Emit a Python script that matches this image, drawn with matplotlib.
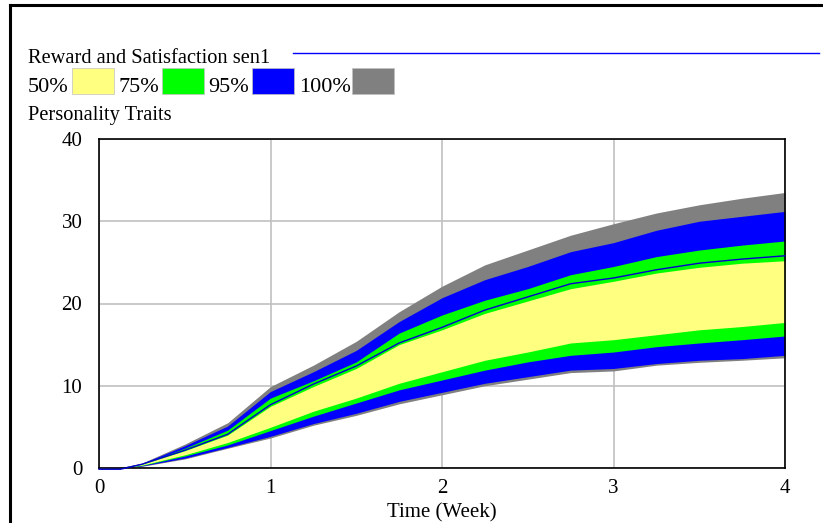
import matplotlib
matplotlib.use("Agg")
import matplotlib.pyplot as plt
from matplotlib.patches import Rectangle
from matplotlib.lines import Line2D

# time axis (weeks)
time = [0, 0.125, 0.25, 0.5, 0.75, 1, 1.25, 1.5, 1.75, 2, 2.25, 2.5, 2.75, 3, 3.25, 3.5, 3.75, 4]

# sensitivity bounds for Personality Traits
hi100 = [0, 0.05, 0.6, 2.9, 5.5, 9.9, 12.5, 15.4, 19.0, 22.1, 24.7, 26.5, 28.3, 29.7, 31.0, 32.0, 32.8, 33.5]
hi95 = [0, 0.05, 0.55, 2.7, 5.1, 9.3, 11.7, 14.3, 17.8, 20.7, 22.9, 24.5, 26.3, 27.4, 28.9, 30.0, 30.6, 31.2]
hi75 = [0, 0.04, 0.5, 2.4, 4.6, 8.5, 10.6, 12.9, 16.4, 18.6, 20.4, 21.8, 23.5, 24.5, 25.7, 26.5, 27.1, 27.6]
hi50 = [0, 0.03, 0.45, 2.1, 4.0, 7.5, 9.9, 12.1, 15.0, 16.8, 18.8, 20.3, 21.8, 22.7, 23.7, 24.4, 24.9, 25.2]
lo50 = [0, 0.02, 0.35, 1.6, 3.1, 4.95, 6.9, 8.5, 10.3, 11.7, 13.1, 14.1, 15.2, 15.6, 16.2, 16.8, 17.2, 17.7]
lo75 = [0, 0.02, 0.3, 1.45, 2.8, 4.55, 6.3, 7.9, 9.5, 10.7, 11.9, 12.9, 13.7, 14.1, 14.75, 15.2, 15.6, 16.05]
lo95 = [0, 0.01, 0.25, 1.2, 2.5, 3.85, 5.4, 6.65, 8.1, 9.2, 10.3, 11.1, 11.9, 12.1, 12.7, 13.1, 13.3, 13.7]
lo100 = [0, 0.01, 0.2, 1.1, 2.4, 3.65, 5.2, 6.4, 7.8, 8.9, 10.0, 10.8, 11.6, 11.8, 12.5, 12.85, 13.1, 13.4]
# base run
base = [-0.15, -0.15, 0.45, 2.15, 4.1, 7.7, 10.2, 12.4, 15.2, 17.1, 19.2, 20.8, 22.4, 23.1, 24.1, 24.9, 25.4, 25.8]

band_labels = ["50%", "75%", "95%", "100%"]
band_colors = ["#ffff80", "#00ff00", "#0000ff", "#808080"]

plt.rcParams['font.family'] = ['Liberation Serif', 'DejaVu Serif']

W, H = 823, 523
fig = plt.figure(figsize=(W / 100, H / 100), dpi=100)
ax = fig.add_axes([99 / W, 1 - 468 / H, 686 / W, 329 / H])

# widest band first so the narrower ones sit on top
ax.fill_between(time, lo100, hi100, color=band_colors[3], lw=0)
ax.fill_between(time, lo95, hi95, color=band_colors[2], lw=0)
ax.fill_between(time, lo75, hi75, color=band_colors[1], lw=0)
ax.fill_between(time, lo50, hi50, color=band_colors[0], lw=0)
ax.plot(time, base, color="#0000cc", lw=1.0, clip_on=False, zorder=5)

ax.set_xlim(0, 4)
ax.set_ylim(0, 40)
ax.set_xticks([0, 1, 2, 3, 4])
ax.set_yticks([0, 10, 20, 30, 40])
ax.grid(True, color="#c0c0c0", lw=1.2)
ax.set_axisbelow(True)
ax.tick_params(length=0, labelsize=15)
ax.tick_params(axis='y', pad=12)
ax.tick_params(axis='x', pad=8)
for s in ax.spines.values():
    s.set_linewidth(1.2)
    s.set_color("black")
ax.set_xlabel("Time (Week)", fontsize=15, labelpad=4)

# header texts
fig.text(28 / W, 1 - 63 / H, "Reward and Satisfaction sen1", fontsize=14.7, va='baseline')
fig.add_artist(Line2D([293 / W, 819 / W], [1 - 53 / H, 1 - 53 / H], color="#0000ff", lw=1))
fig.text(28 / W, 1 - 120 / H, "Personality Traits", fontsize=14.7, va='baseline')

# legend row: label then colour swatch
label_x = [28, 118, 208, 299]
patch_x = [72, 162, 252, 352]
for lab, c, lx, px in zip(band_labels, band_colors, label_x, patch_x):
    fig.text(lx / W, 1 - 92 / H, lab, fontsize=16, va='baseline')
    fig.add_artist(Rectangle((px / W, 1 - 94 / H), 42 / W, 26 / H, facecolor=c,
                             edgecolor="#c0c0c0", lw=0.5, transform=fig.transFigure))

# outer frame (left and top only visible)
fig.add_artist(Line2D([10 / W, 1], [1 - 5 / H, 1 - 5 / H], color="black", lw=2.2))
fig.add_artist(Line2D([10 / W, 10 / W], [0, 1 - 5 / H], color="black", lw=2.2))

fig.savefig("out.png", dpi=100)
